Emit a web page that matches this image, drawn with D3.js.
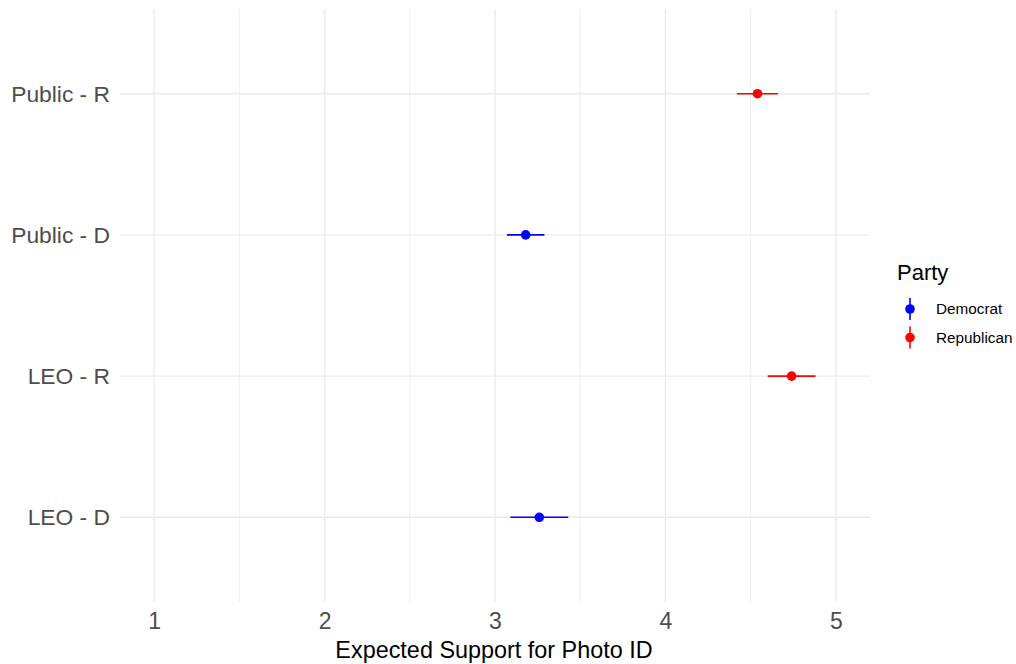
<!DOCTYPE html>
<html>
<head>
<meta charset="utf-8">
<script src="https://cdn.jsdelivr.net/npm/d3@7"></script>
<style>
  body { margin: 0; background: #fff; }
  text { font-family: "Liberation Sans", Arial, sans-serif; }
</style>
</head>
<body>
<div id="chart"></div>
<script>
// data
var groups = ["LEO - D", "LEO - R", "Public - D", "Public - R"];
var party = ["Democrat", "Republican", "Democrat", "Republican"];
var estimate = [3.26, 4.74, 3.18, 4.54];
var lower = [3.09, 4.60, 3.07, 4.42];
var upper = [3.43, 4.88, 3.29, 4.66];
var xTicks = [1, 2, 3, 4, 5];
var partyNames = ["Democrat", "Republican"];
var partyColors = ["#0000ff", "#ff0000"];

var width = 1016, height = 664;
var margin = {top: 9, right: 146, bottom: 62, left: 120};
var pw = width - margin.left - margin.right,
    ph = height - margin.top - margin.bottom;

var svg = d3.select("#chart").append("svg")
    .attr("width", width)
    .attr("height", height);

var g = svg.append("g")
    .attr("transform", "translate(" + margin.left + "," + margin.top + ")");

// scales (ggplot style expansion)
var x = d3.scaleLinear().domain([0.8, 5.2]).range([0, pw]);
var y = d3.scaleLinear().domain([0.4, 4.6]).range([ph, 0]);
var color = d3.scaleOrdinal().domain(partyNames).range(partyColors);

var data = groups.map(function(d, i) {
  return {group: d, party: party[i], est: estimate[i], lo: lower[i], hi: upper[i], pos: i + 1};
});

// minor vertical grid
var minor = d3.range(1.5, 5, 1);
g.selectAll(".minor")
  .data(minor).enter().append("line")
    .attr("x1", function(d) { return x(d); })
    .attr("x2", function(d) { return x(d); })
    .attr("y1", 0).attr("y2", ph)
    .attr("stroke", "#ebebeb").attr("stroke-width", 0.8);

// major vertical grid
g.selectAll(".vmajor")
  .data(xTicks).enter().append("line")
    .attr("x1", function(d) { return x(d); })
    .attr("x2", function(d) { return x(d); })
    .attr("y1", 0).attr("y2", ph)
    .attr("stroke", "#ebebeb").attr("stroke-width", 1.4);

// horizontal grid
g.selectAll(".hmajor")
  .data(data).enter().append("line")
    .attr("x1", 0).attr("x2", pw)
    .attr("y1", function(d) { return y(d.pos); })
    .attr("y2", function(d) { return y(d.pos); })
    .attr("stroke", "#ebebeb").attr("stroke-width", 1.4);

// x axis
var xAxis = g.append("g")
    .attr("transform", "translate(0," + ph + ")")
    .call(d3.axisBottom(x).tickValues(xTicks).tickSize(0).tickPadding(11).tickFormat(d3.format("d")));
xAxis.select(".domain").remove();
xAxis.selectAll("text")
    .attr("fill", "#4d4d4d")
    .style("font-size", "23px")
    .style("font-family", "'Liberation Sans', Arial, sans-serif");

// y axis
var yAxis = g.append("g")
    .call(d3.axisLeft(y).tickValues(data.map(function(d) { return d.pos; }))
      .tickSize(0).tickPadding(10)
      .tickFormat(function(d) { return groups[d - 1]; }));
yAxis.select(".domain").remove();
yAxis.selectAll("text")
    .attr("fill", "#4d4d4d")
    .style("font-size", "22.8px")
    .style("font-family", "'Liberation Sans', Arial, sans-serif");

// x axis title
svg.append("text")
    .attr("x", margin.left + pw / 2 - 1)
    .attr("y", 658)
    .attr("text-anchor", "middle")
    .attr("fill", "#000")
    .style("font-size", "23.4px")
    .text("Expected Support for Photo ID");

// pointranges
var pr = g.selectAll(".pr")
  .data(data).enter().append("g");

pr.append("line")
    .attr("x1", function(d) { return x(d.lo); })
    .attr("x2", function(d) { return x(d.hi); })
    .attr("y1", function(d) { return y(d.pos); })
    .attr("y2", function(d) { return y(d.pos); })
    .attr("stroke", function(d) { return color(d.party); })
    .attr("stroke-width", 1.6);

pr.append("circle")
    .attr("cx", function(d) { return x(d.est); })
    .attr("cy", function(d) { return y(d.pos); })
    .attr("r", 4.8)
    .attr("fill", function(d) { return color(d.party); });

// legend
var legend = svg.append("g").attr("transform", "translate(897,0)");
legend.append("text")
    .attr("x", 0).attr("y", 280)
    .attr("fill", "#000")
    .style("font-size", "22px")
    .text("Party");

var keys = legend.selectAll(".key")
  .data(partyNames).enter().append("g")
    .attr("transform", function(d, i) { return "translate(0," + (309 + i * 28.6) + ")"; });

keys.append("line")
    .attr("x1", 13).attr("x2", 13)
    .attr("y1", -11).attr("y2", 11)
    .attr("stroke", function(d) { return color(d); })
    .attr("stroke-width", 1.6);

keys.append("circle")
    .attr("cx", 13).attr("cy", 0).attr("r", 4.8)
    .attr("fill", function(d) { return color(d); });

keys.append("text")
    .attr("x", 39).attr("y", 0)
    .attr("dy", "0.35em")
    .attr("fill", "#000")
    .style("font-size", "15.3px")
    .text(function(d) { return d; });
</script>
</body>
</html>
